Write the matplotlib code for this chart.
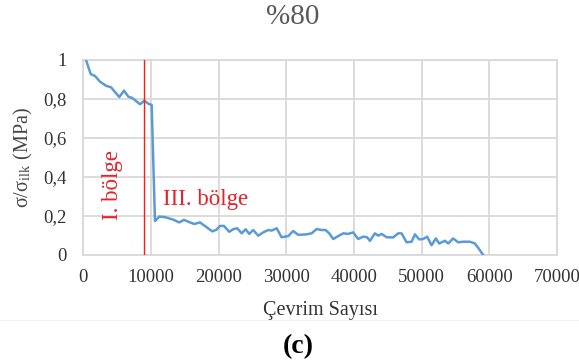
import matplotlib
matplotlib.use("Agg")
import matplotlib.pyplot as plt
import matplotlib.ticker as mtick
from matplotlib.lines import Line2D

# Cycle count vs normalised stress
cycles = [400, 1090, 1730, 2460, 3350, 4090, 5320, 6010, 6650, 7240, 8380, 9010,
          9600, 10100, 10590, 11230, 12070, 13300, 14190, 14870, 15760, 16400,
          17240, 18230, 19060, 19700, 20190, 20780, 21570, 22160, 22750, 23400,
          23990, 24520, 25110, 25850, 26590, 27330, 27830, 28570, 29300, 30280,
          31020, 31760, 33000, 33740, 34480, 35210, 35800, 36340, 36930, 37670,
          38410, 39140, 39880, 40620, 41360, 41950, 42350, 43090, 43580, 44080,
          44820, 45790, 46530, 47030, 47770, 48510, 49000, 49630, 50220, 50810,
          51460, 52100, 52580, 53430, 53920, 54650, 55390, 56130, 57120, 57860,
          58350, 59090]
stress = [1.0, 0.928, 0.918, 0.889, 0.868, 0.860, 0.810, 0.843, 0.812, 0.805, 0.773,
          0.791, 0.776, 0.769, 0.174, 0.197, 0.194, 0.181, 0.167, 0.180, 0.167,
          0.159, 0.167, 0.142, 0.121, 0.130, 0.149, 0.149, 0.119, 0.132, 0.137,
          0.111, 0.132, 0.108, 0.128, 0.099, 0.116, 0.128, 0.125, 0.137, 0.091,
          0.097, 0.123, 0.103, 0.106, 0.111, 0.133, 0.128, 0.128, 0.111, 0.082,
          0.097, 0.111, 0.108, 0.116, 0.082, 0.094, 0.091, 0.072, 0.111, 0.099,
          0.108, 0.091, 0.090, 0.111, 0.111, 0.065, 0.068, 0.106, 0.080, 0.082,
          0.094, 0.050, 0.085, 0.059, 0.073, 0.059, 0.085, 0.065, 0.068, 0.068,
          0.059, 0.037, 0.0]

region_boundary = 9000
x_ticks = [0, 10000, 20000, 30000, 40000, 50000, 60000, 70000]
y_ticks = [0, 0.2, 0.4, 0.6, 0.8, 1.0]

plt.rcParams["font.family"] = ["Liberation Serif", "DejaVu Serif"]
plt.rcParams["mathtext.fontset"] = "stix"

fig = plt.figure(figsize=(5.79, 3.64), dpi=100)
ax = fig.add_axes([0.1439, 0.2995, 0.8181, 0.5357])

grid_c = "#d9d9d9"
ax.plot(cycles, stress, color="#5B9BD5", lw=1.8, solid_joinstyle="round", zorder=3)
ax.plot([region_boundary, region_boundary], [0, 1], color="#ff1a1a", lw=1.0, zorder=4)

ax.set_xlim(0, 70000)
ax.set_ylim(0, 1)
ax.set_xticks(x_ticks)
ax.set_yticks(y_ticks)
ax.yaxis.set_major_formatter(
    mtick.FuncFormatter(lambda v, _: f"{v:g}".replace(".", ","))
)
ax.grid(True, color=grid_c, lw=1.3)
ax.set_axisbelow(True)
for s in ax.spines.values():
    s.set_color(grid_c)
    s.set_linewidth(1.3)
ax.tick_params(length=0, labelsize=13.5, colors="#333333")
ax.tick_params(axis="y", pad=12)
ax.tick_params(axis="x", pad=10)

ax.set_xlabel("Çevrim Sayısı", fontsize=14.5, color="#333333", labelpad=11)
ax.set_ylabel(r"σ/σ$_\mathregular{ilk}$ (MPa)", fontsize=14.5, color="#444444", labelpad=6)

ax.text(4240, 0.359, "I. bölge", rotation=90, color="#e8212b", fontsize=16.5,
        ha="center", va="center")
ax.text(11770, 0.282, "III. bölge", color="#e8212b", fontsize=16.5,
        ha="left", va="center")

fig.text(0.506, 0.953, "%80", fontsize=21, color="#595959", ha="center", va="center")
fig.text(0.515, 0.047, "(c)", fontsize=20, fontweight="bold", ha="center", va="center")
fig.add_artist(Line2D([0, 1], [0.121, 0.121], transform=fig.transFigure,
                      color="#f2f2f2", lw=0.8))

fig.savefig("out.png", dpi=100)
